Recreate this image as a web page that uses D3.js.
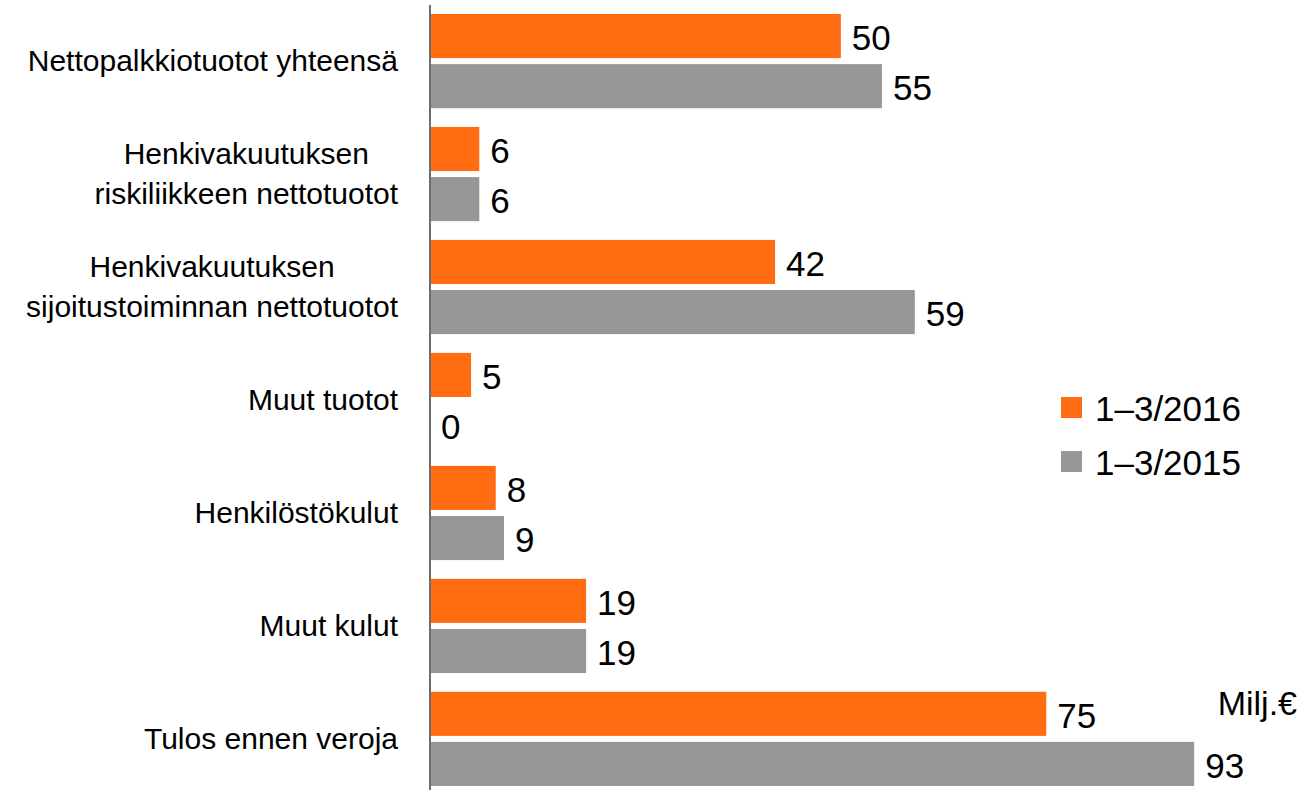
<!DOCTYPE html>
<html>
<head>
<meta charset="utf-8">
<script src="https://cdn.jsdelivr.net/npm/d3@7"></script>
<style>
  body { margin: 0; background: #fff; }
  text { font-family: "Liberation Sans", Arial, sans-serif; fill: #000; }
</style>
</head>
<body>
<div id="chart"></div>
<script>
// categories (each label split into lines) and the two series
const categories = [
    ["Nettopalkkiotuotot yhteensä"],
    ["Henkivakuutuksen", "riskiliikkeen nettotuotot"],
    ["Henkivakuutuksen", "sijoitustoiminnan nettotuotot"],
    ["Muut tuotot"],
    ["Henkilöstökulut"],
    ["Muut kulut"],
    ["Tulos ennen veroja"]
];
const series = ["1–3/2016", "1–3/2015"];
const values2016 = [50, 6, 42, 5, 8, 19, 75];
const values2015 = [55, 6, 59, 0, 9, 19, 93];
const unitLabel = "Milj.€";

const colors = ["#ff6c12", "#979797"];

const width = 1303,
      height = 790,
      margin = ({top: 14, right: 2, bottom: 4, left: 430});

let svg = d3.select("#chart")
    .append("svg")
    .attr("width", width)
    .attr("height", height);

let keys = categories.map(d => d.join(" "));

let y = d3.scaleBand()
    .domain(keys)
    .range([margin.top, height - margin.bottom])
    .paddingInner(0.166)
    .paddingOuter(0);

let ySub = d3.scaleBand()
    .domain(series)
    .range([0, y.bandwidth()])
    .paddingInner(0.12);

let x = d3.scaleLinear()
    .domain([0, 106])
    .range([margin.left, width - margin.right]);

let data = keys.map((k, i) => ({
    key: k,
    lines: categories[i],
    vals: [values2016[i], values2015[i]]
}));

// bars
let group = svg.selectAll(".grp")
    .data(data)
    .join("g")
    .attr("class", "grp")
    .attr("transform", d => `translate(0,${y(d.key)})`);

group.selectAll("rect")
    .data(d => d.vals.map((v, j) => ({s: series[j], v: v, j: j})))
    .join("rect")
    .attr("x", x(0))
    .attr("y", d => ySub(d.s))
    .attr("width", d => x(d.v) - x(0))
    .attr("height", ySub.bandwidth())
    .attr("fill", d => colors[d.j]);

// value labels
group.selectAll(".val")
    .data(d => d.vals.map((v, j) => ({s: series[j], v: v, j: j})))
    .join("text")
    .attr("class", "val")
    .attr("x", d => x(d.v) + 11)
    .attr("y", d => ySub(d.s) + ySub.bandwidth() / 2 + 14)
    .attr("font-size", 35)
    .text(d => d.v);

// axis line
svg.append("line")
    .attr("x1", x(0)).attr("x2", x(0))
    .attr("y1", 5).attr("y2", height)
    .attr("stroke", "#6e6e6e")
    .attr("stroke-width", 2);

// category labels, lines centred on each other, block right aligned
const labelRight = 398, lineGap = 40;
data.forEach(d => {
    let cy = y(d.key) + y.bandwidth() / 2;
    let g = svg.append("g");
    let texts = d.lines.map((line, i) => g.append("text")
        .attr("font-size", 30)
        .attr("text-anchor", "middle")
        .attr("y", cy + 10 + (i - (d.lines.length - 1) / 2) * lineGap)
        .text(line));
    let w = d3.max(texts, t => t.node().getComputedTextLength());
    texts.forEach(t => t.attr("x", labelRight - w / 2));
});

// legend
let legend = svg.append("g")
    .attr("transform", "translate(1061,397)");

series.forEach((s, i) => {
    legend.append("rect")
        .attr("x", 0)
        .attr("y", i * 54)
        .attr("width", 21)
        .attr("height", 21)
        .attr("fill", colors[i]);
    legend.append("text")
        .attr("x", 34)
        .attr("y", i * 54 + 24)
        .attr("font-size", 35)
        .text(s);
});

svg.append("text")
    .attr("x", 1297)
    .attr("y", 715)
    .attr("text-anchor", "end")
    .attr("font-size", 34)
    .text(unitLabel);
</script>
</body>
</html>
